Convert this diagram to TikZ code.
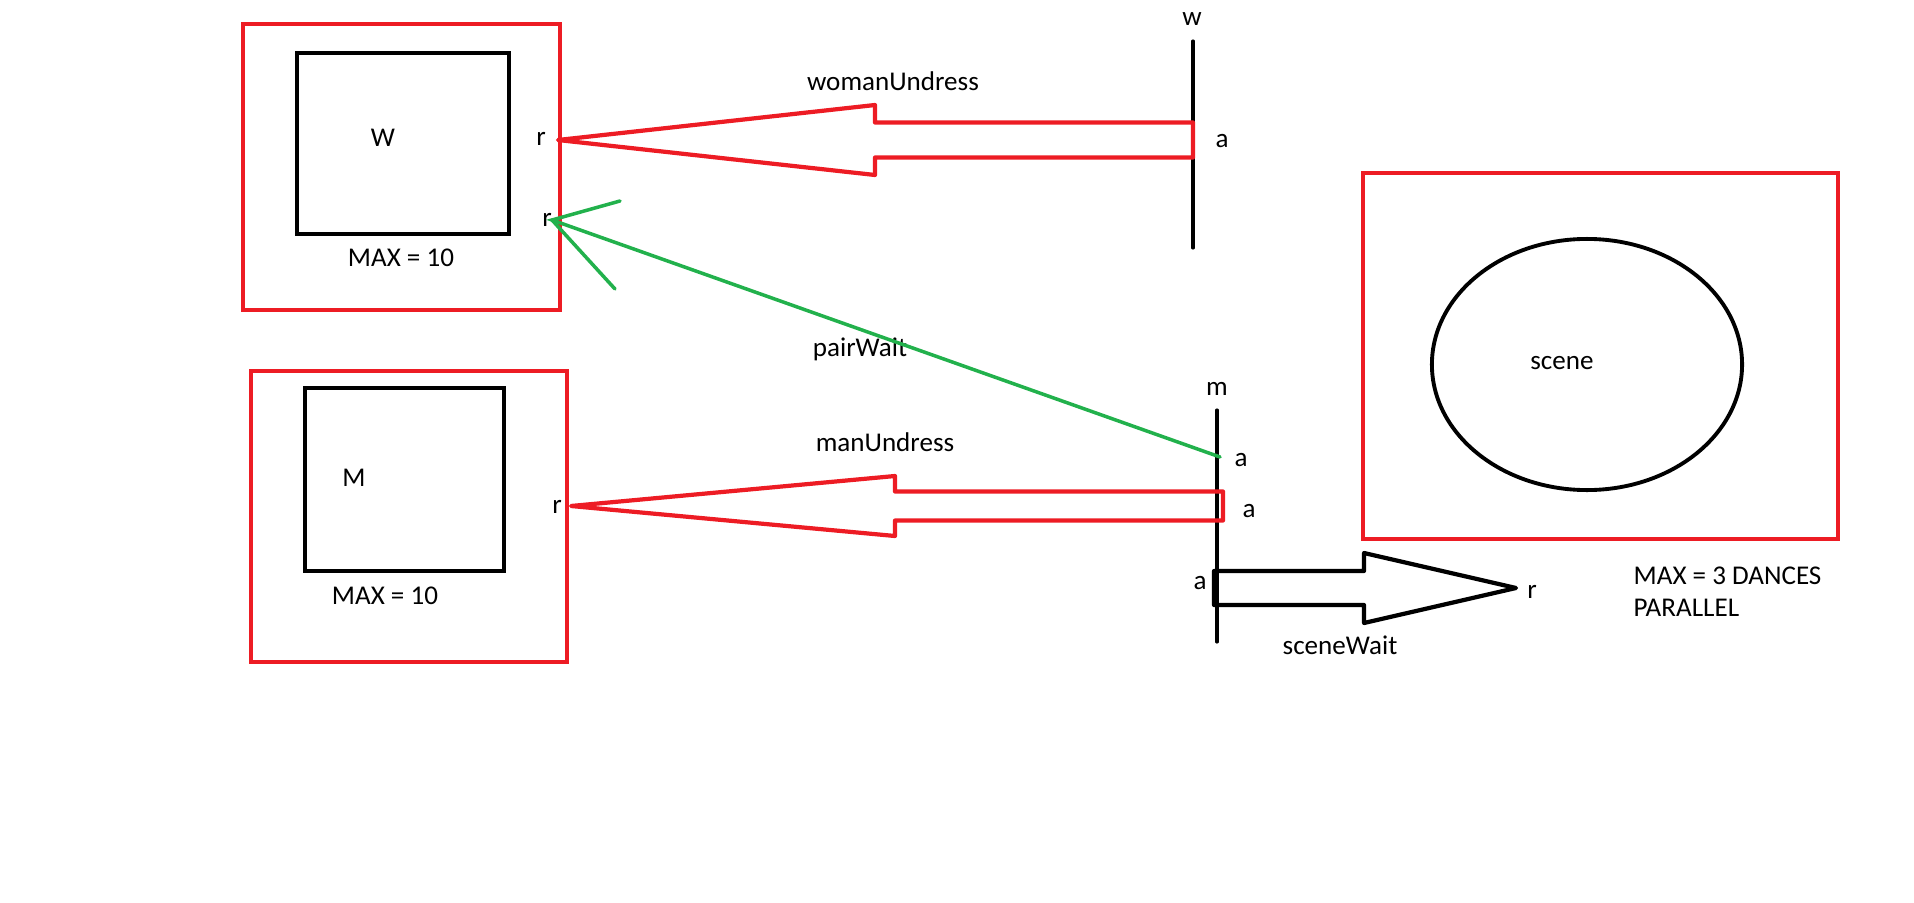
\documentclass[tikz,border=0pt]{standalone}
\usepackage{fontspec}
\setmainfont{Carlito}
\usepackage{xcolor}
\usetikzlibrary{calc,shapes.geometric}

\definecolor{paintred}{HTML}{ED1C24}
\definecolor{paintgreen}{HTML}{22B14C}

% hollow block arrow: style, tip, tail, head length, head half, shaft half
\newcommand{\fatarrow}[6]{%
  \draw[#1] (#2) -- ($(#2)+(#4,-#5)$) -- ($(#2)+(#4,-#6)$) -- ($(#3)+(0,-#6)$)
    -- ($(#3)+(0,#6)$) -- ($(#2)+(#4,#6)$) -- ($(#2)+(#4,#5)$) -- cycle;}

\begin{document}
\begin{tikzpicture}[x=0.01cm, y=-0.01cm]
  \tikzstyle{outerbox} = [draw=paintred, line width=1.3pt, inner sep=0pt]
  \tikzstyle{innerbox} = [draw, line width=1.3pt, inner sep=0pt]
  \tikzstyle{lbl} = [font=\fontsize{7.7}{9.1}\selectfont, inner sep=0pt]
  \tikzstyle{bar} = [line width=0.9pt, line cap=round]
  \tikzstyle{redarrow} = [draw=paintred, line width=1.2pt, line join=round]
  \tikzstyle{blackarrow} = [draw, line width=1.2pt, line join=round]
  \tikzstyle{greenline} = [draw=paintgreen, line width=1pt, line cap=round]

  \useasboundingbox (0,0) rectangle (1914,903);

  % queues
  \node[outerbox, minimum width=3.17cm, minimum height=2.86cm] (wQueue) at (401.5,167) {};
  \node[innerbox, minimum width=2.12cm, minimum height=1.81cm] (wRoom) at (403,143.5) {};
  \node[outerbox, minimum width=3.16cm, minimum height=2.91cm] (mQueue) at (409,516.5) {};
  \node[innerbox, minimum width=1.99cm, minimum height=1.83cm] (mRoom) at (404.5,479.5) {};

  % scene
  \node[outerbox, minimum width=4.75cm, minimum height=3.66cm] (sceneBox) at (1600.5,356) {};
  \node[ellipse, draw, line width=1.1pt, minimum width=3.10cm, minimum height=2.51cm,
    inner sep=0pt] (sceneEll) at (1587,364.5) {};

  % labels
  \node[lbl] (wName) at (383,138) {W};
  \node[lbl] (wMax) at (401,258) {MAX = 10};
  \node[lbl] (wR1) at (541,139) {r};
  \node[lbl] (wR2) at (547,220) {r};
  \node[lbl] (mName) at (354,478) {M};
  \node[lbl] (mMax) at (385,596) {MAX = 10};
  \node[lbl] (mR) at (557,507) {r};
  \node[lbl] (wLbl) at (1192,19) {w};
  \node[lbl] (wA) at (1222,141) {a};
  \node[lbl] (mLbl) at (1217,389) {m};
  \node[lbl] (mA1) at (1241,460) {a};
  \node[lbl] (mA2) at (1249,511) {a};
  \node[lbl] (mA3) at (1200,583) {a};
  \node[lbl] (sR) at (1532,592) {r};
  \node[lbl] (womanLbl) at (893,81) {womanUndress};
  \node[lbl] (manLbl) at (885,442) {manUndress};
  \node[lbl] (pairLbl) at (860,349) {pairWait};
  \node[lbl] (sceneLbl) at (1340,645) {sceneWait};
  \node[lbl] (sceneName) at (1562,363) {scene};
  \node[lbl, anchor=west, align=left] (sceneMax) at (1633,592)
    {MAX = 3 DANCES\\PARALLEL};

  % process bars
  \coordinate (wTop) at (1193,41);
  \coordinate (wBot) at (1193,248);
  \coordinate (mTop) at (1217,410);
  \coordinate (mBot) at (1217,642);
  \draw[bar] (wTop) -- (wBot);
  \draw[bar] (mTop) -- (mBot);

  % block arrows
  \coordinate (womanTip) at (558,140);
  \coordinate (womanTail) at (1193,140);
  \coordinate (manTip) at (571,506);
  \coordinate (manTail) at (1223,506);
  \coordinate (sceneTip) at (1516,588);
  \coordinate (sceneTail) at (1214,588);
  \fatarrow{redarrow}{womanTip}{womanTail}{317}{35}{17.5}
  \fatarrow{redarrow}{manTip}{manTail}{324}{30}{14.5}
  \fatarrow{blackarrow}{sceneTip}{sceneTail}{-152}{35}{17}

  % pairWait
  \coordinate (pairTip) at (552,220);
  \coordinate (pairStart) at (1220,457);
  \coordinate (barbUp) at (620,201);
  \coordinate (barbDown) at (615,289);
  \draw[greenline] (pairStart) -- (pairTip) -- (barbUp);
  \draw[greenline] (pairTip) -- (barbDown);
\end{tikzpicture}
\end{document}
